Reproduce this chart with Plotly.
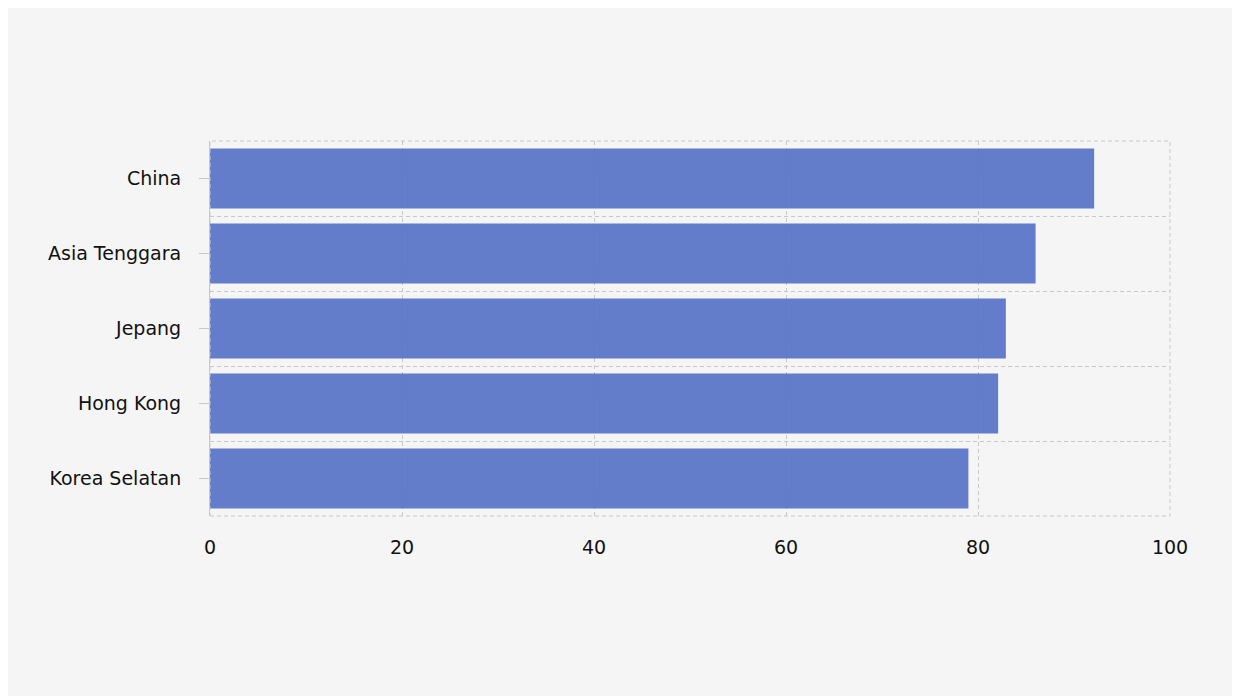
import plotly.graph_objects as go

categories = ["China", "Asia Tenggara", "Jepang", "Hong Kong", "Korea Selatan"]
values = [92.1, 86.0, 82.9, 82.1, 79.0]
positions = list(range(len(categories)))

fig = go.Figure(go.Bar(
    x=values, y=positions, orientation="h",
    marker=dict(color="rgba(84,112,198,0.9)", line=dict(width=0)),
    hoverinfo="x+text", text=categories, textposition="none",
))
fig.update_layout(
    width=1240, height=696,
    paper_bgcolor="#f5f5f5", plot_bgcolor="#f5f5f5",
    margin=dict(l=202, r=78, t=133, b=188),
    bargap=0.2,
    font=dict(family="DejaVu Sans, Verdana, sans-serif", size=19, color="#111"),
    showlegend=False,
    shapes=[dict(type="rect", xref="paper", yref="paper", x0=0, x1=1, y0=0, y1=1,
                 line=dict(color="#c8c8c8", width=1, dash="4px,3px"), layer="above")],
)
fig.update_xaxes(
    range=[0, 100], dtick=20, showgrid=True, gridcolor="#c8c8c8", griddash="4px,3px",
    gridwidth=1, zeroline=False, showline=False, ticks="outside", ticklen=14,
    tickcolor="rgba(0,0,0,0)", layer="above traces", tickfont=dict(size=19),
)
fig.update_yaxes(
    range=[len(categories) - 0.5, -0.5], tickvals=positions, ticktext=categories,
    showgrid=False, zeroline=False, showline=True, linecolor="#c8c8c8",
    ticks="outside", ticklen=10, tickcolor="#c8c8c8", ticklabelstandoff=14,
    minor=dict(tick0=0.5, dtick=1, showgrid=True, gridcolor="#c8c8c8", griddash="4px,3px", ticks=""),
    layer="above traces", tickfont=dict(size=19),
)
fig.write_html("out.html")
